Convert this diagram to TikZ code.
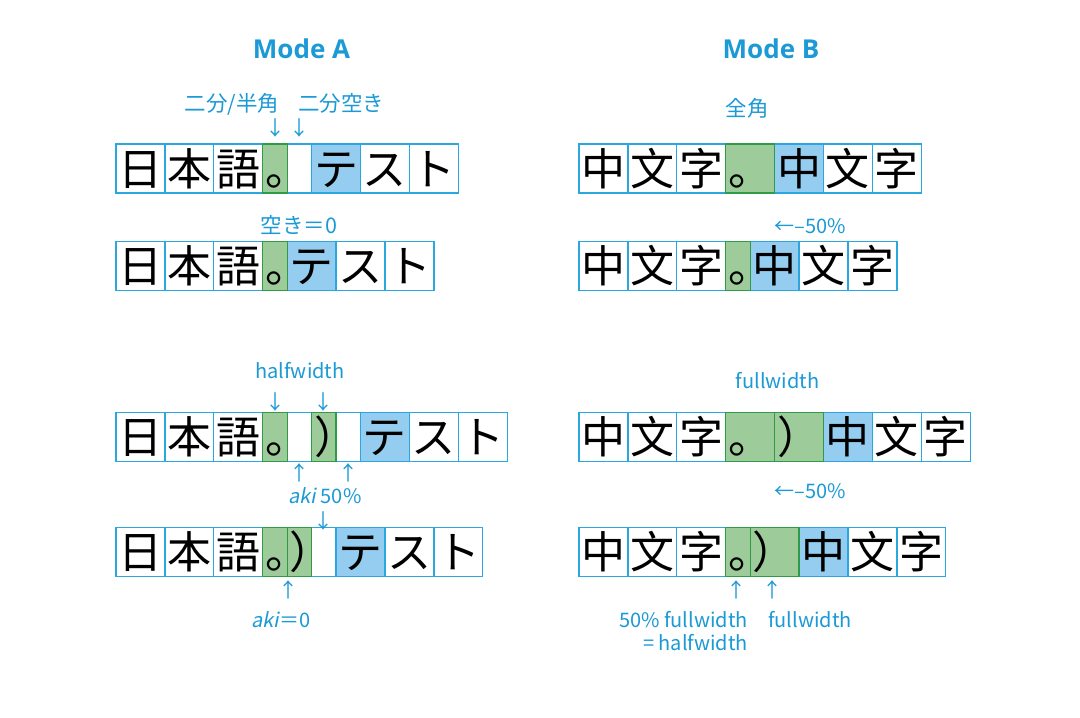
\documentclass[tikz,border=0pt]{standalone}
\usepackage{fontspec}
\setmainfont{Noto Sans CJK JP}
\newfontfamily\jafont{Noto Sans CJK JP}
\newfontfamily\zhfont{Noto Sans CJK SC}
\newfontfamily\akifont[FakeSlant=0.2]{Noto Sans CJK JP}
\newfontfamily\titlefont{Open Sans}
\usepackage{tikz}

\definecolor{textblue}{HTML}{1B9AD6}
\definecolor{cellblue}{HTML}{2AA7DF}
\definecolor{bluefill}{HTML}{94CDEF}
\definecolor{greenfill}{HTML}{9DCB99}
\definecolor{greenline}{HTML}{2F9A48}

\def\cw{48.9}
\def\hc{24.45}
\def\rh{49}

\tikzset{
  plaincell/.style={draw=cellblue,fill=white,line width=1.3pt},
  bluecell/.style={draw=cellblue,fill=bluefill,line width=1.3pt},
  greencell/.style={draw=greenline,fill=greenfill,line width=1.3pt},
  plaincell top/.style={},
  bluecell top/.style={},
  greencell top/.style={draw=greenline,line width=1.3pt},
  glyph/.style={inner sep=0pt,text height=38.7pt,text depth=5.3pt},
  lab/.style={text=textblue,inner sep=0pt,font=\fontsize{20}{24}\selectfont},
  jalab/.style={lab,font=\fontsize{21.5}{24}\selectfont},
  modetitle/.style={text=textblue,inner sep=0pt,font=\titlefont\bfseries\fontsize{26}{30}\selectfont}
}

% one row of cells: name, font, left, top, list start/width/kind/glyph
\newcommand\cellrow[5]{%
  \foreach \s/\w/\k/\g in {#5}{
    \path[\k] ({#3+\s*\hc},#4) rectangle ++({\w*\hc},\rh);
    \node[glyph,font=#2\fontsize{44}{44}\selectfont] (#1-\s) at ({#3+\s*\hc+\cw/2},{#4+\rh/2}) {\g};
  }
  \foreach \s/\w/\k/\g in {#5}{
    \path[\k\space top] ({#3+\s*\hc},#4) rectangle ++({\w*\hc},\rh);
  }
}

\begin{document}
\begin{tikzpicture}[x=1pt,y=-1pt]
  \useasboundingbox[fill=white] (0,0) rectangle (1080,718);

  \node[modetitle,anchor=base] (modeA) at (301.5,58.5) {Mode A};
  \node[modetitle,anchor=base] (modeB) at (771,58.5) {Mode B};

  % Mode A
  \cellrow{a1}{\jafont}{116}{144}{0/2/plaincell/日,2/2/plaincell/本,4/2/plaincell/語,6/1/greencell/。,7/1/plaincell/{},8/2/bluecell/テ,10/2/plaincell/ス,12/2/plaincell/ト}
  \cellrow{a2}{\jafont}{116}{241.5}{0/2/plaincell/日,2/2/plaincell/本,4/2/plaincell/語,6/1/greencell/。,7/2/bluecell/テ,9/2/plaincell/ス,11/2/plaincell/ト}
  \cellrow{a3}{\jafont}{116}{412.7}{0/2/plaincell/日,2/2/plaincell/本,4/2/plaincell/語,6/1/greencell/。,7/1/plaincell/{},8/1/greencell/）,9/1/plaincell/{},10/2/bluecell/テ,12/2/plaincell/ス,14/2/plaincell/ト}
  \cellrow{a4}{\jafont}{116}{527.7}{0/2/plaincell/日,2/2/plaincell/本,4/2/plaincell/語,6/1/greencell/。,7/1/greencell/）,8/1/plaincell/{},9/2/bluecell/テ,11/2/plaincell/ス,13/2/plaincell/ト}

  \node[jalab,anchor=base] (nibun) at (232,111) {二分/半角};
  \node[jalab,anchor=base] (nibunaki) at (341,111) {二分空き};
  \node[lab] (dnA1) at (275.5,127.5) {↓};
  \node[lab] (dnA2) at (299.5,127.5) {↓};
  \node[jalab,anchor=base] (akizero) at (299,233) {空き＝0};

  \node[lab,anchor=base] (halfw) at (300,378) {halfwidth};
  \node[lab] (dnA3) at (275.5,402) {↓};
  \node[lab] (dnA4) at (323.5,402) {↓};
  \node[lab] (upA1) at (299.7,473) {↑};
  \node[lab] (upA2) at (348,473) {↑};
  \node[lab,anchor=base] (aki50) at (325,503) {{\akifont aki} 50\%};
  \node[lab] (dnA5) at (323.5,521) {↓};
  \node[lab] (upA3) at (288,590) {↑};
  \node[lab,anchor=base] (aki0) at (281,627) {{\akifont aki}＝0};

  % Mode B
  \cellrow{b1}{\zhfont}{579}{144}{0/2/plaincell/中,2/2/plaincell/文,4/2/plaincell/字,6/2/greencell/。,8/2/bluecell/中,10/2/plaincell/文,12/2/plaincell/字}
  \cellrow{b2}{\zhfont}{579}{241.5}{0/2/plaincell/中,2/2/plaincell/文,4/2/plaincell/字,6/1/greencell/。,7/2/bluecell/中,9/2/plaincell/文,11/2/plaincell/字}
  \cellrow{b3}{\zhfont}{579}{412.7}{0/2/plaincell/中,2/2/plaincell/文,4/2/plaincell/字,6/2/greencell/。,8/2/greencell/）,10/2/bluecell/中,12/2/plaincell/文,14/2/plaincell/字}
  \cellrow{b4}{\zhfont}{579}{527.7}{0/2/plaincell/中,2/2/plaincell/文,4/2/plaincell/字,6/1/greencell/。,7/2/greencell/）,9/2/bluecell/中,11/2/plaincell/文,13/2/plaincell/字}

  \node[jalab,anchor=base] (zenkaku) at (747,116) {全角};
  \node[lab,anchor=base] (shiftB1) at (810,233) {←–50\%};
  \node[lab,anchor=base] (fullw) at (777.5,388) {fullwidth};
  \node[lab,anchor=base] (shiftB2) at (810,498) {←–50\%};
  \node[lab] (upB1) at (736,590) {↑};
  \node[lab] (upB2) at (772,590) {↑};
  \node[lab,anchor=base east] (halfnote) at (748,627) {50\% fullwidth};
  \node[lab,anchor=base east] (halfnote2) at (748,650) {= halfwidth};
  \node[lab,anchor=base] (fullnote) at (810,627) {fullwidth};
\end{tikzpicture}
\end{document}
